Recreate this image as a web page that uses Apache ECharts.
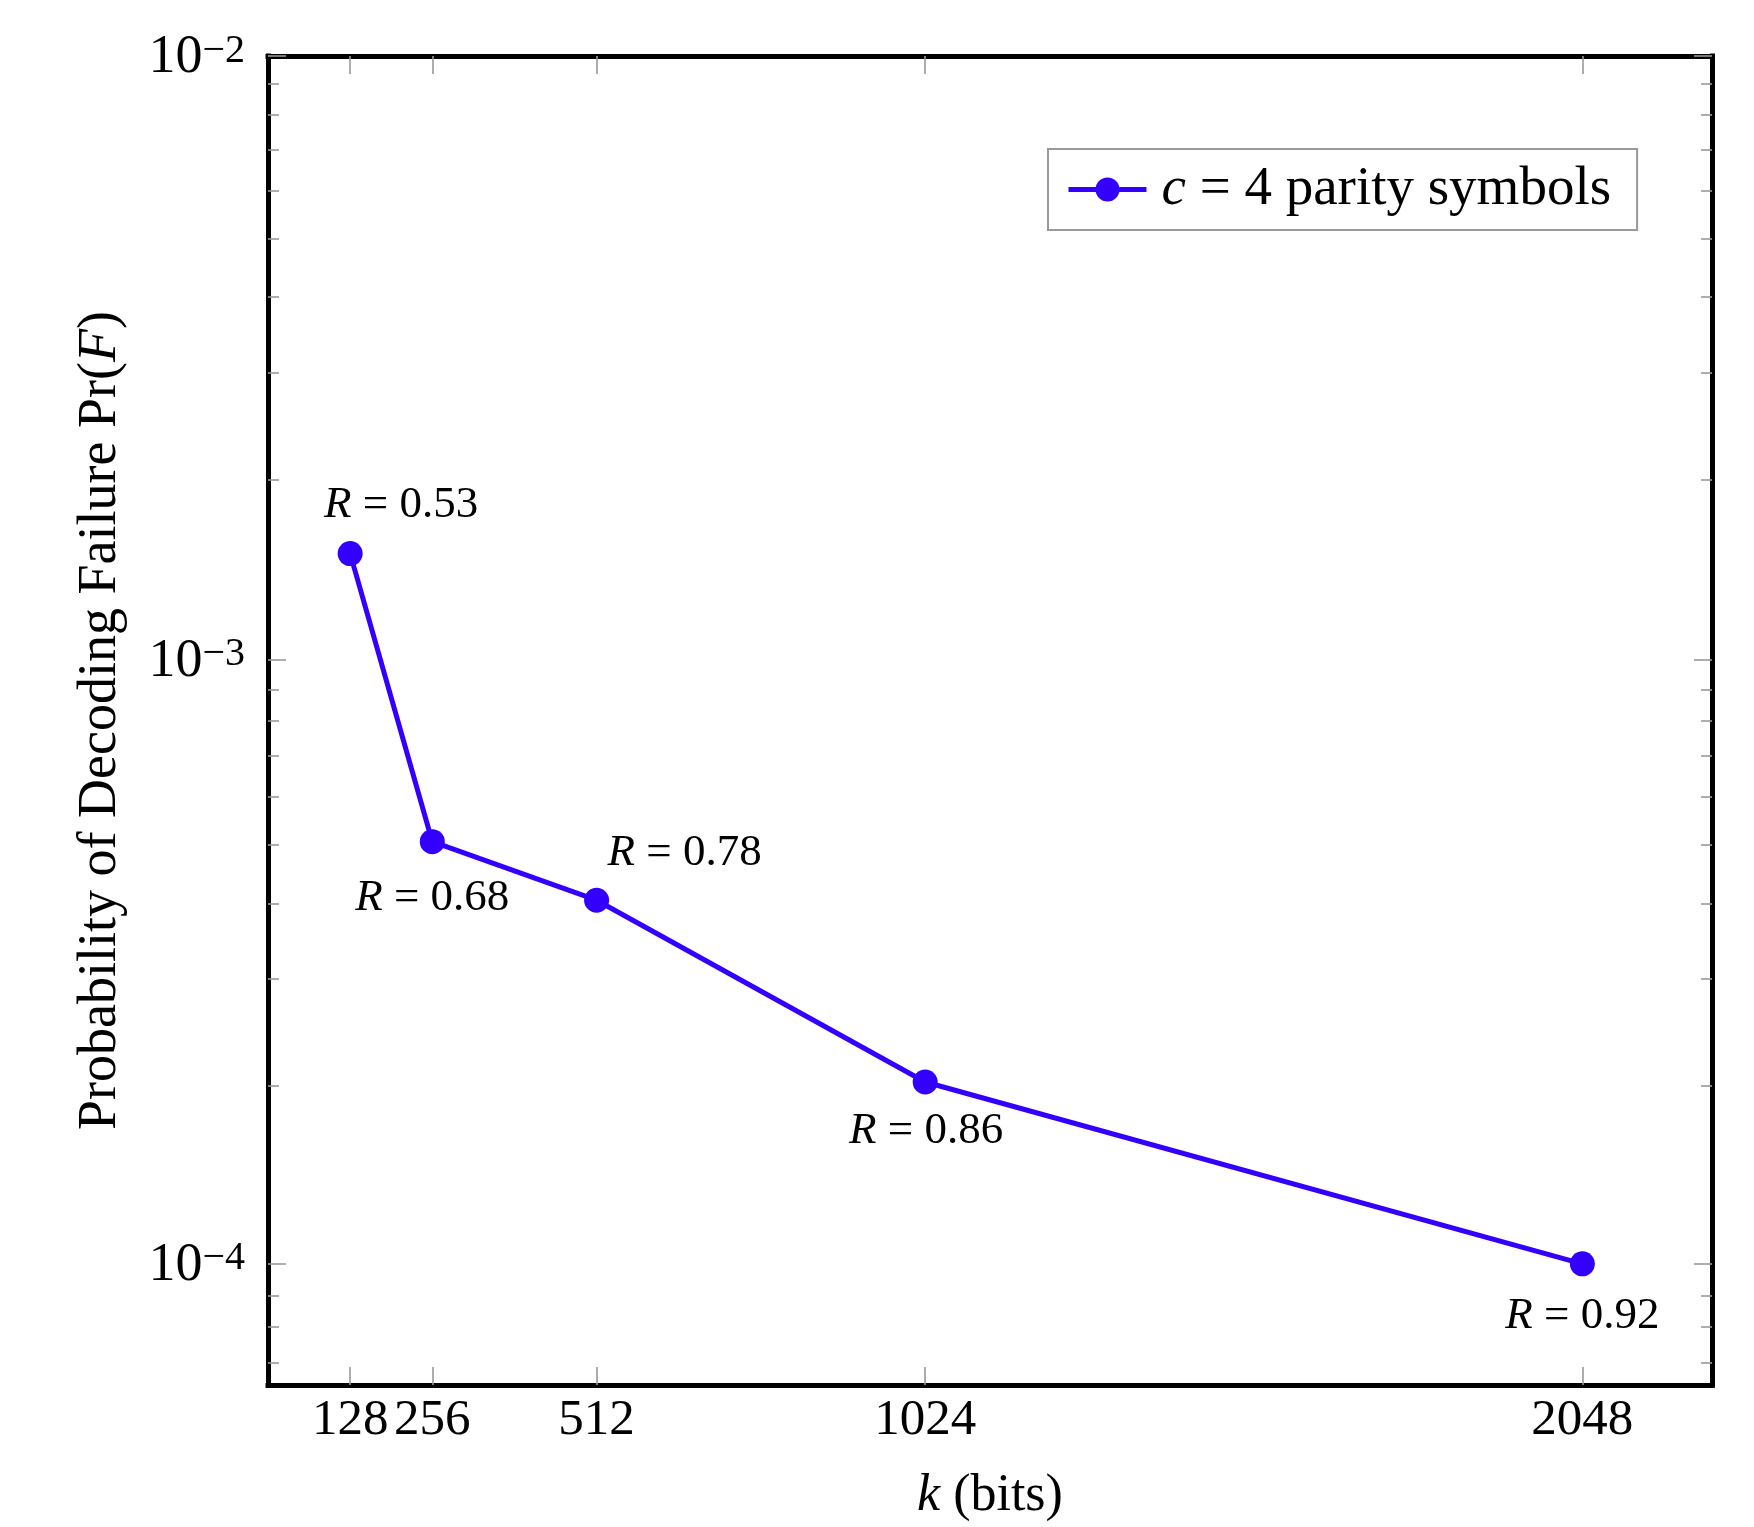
<!DOCTYPE html>
<html><head><meta charset="utf-8">
<script src="https://cdn.jsdelivr.net/npm/echarts@6/dist/echarts.min.js"></script>
<style>html,body{margin:0;padding:0;background:#fff;overflow:hidden}#c{width:1754px;height:1527px}</style>
</head><body><div id="c"></div>
<script>
// ---- data ----
const kBits = [128, 256, 512, 1024, 2048];
const failProb = [1.5e-3, 5e-4, 4e-4, 2e-4, 1e-4];
const rateLabels = ['0.53', '0.68', '0.78', '0.86', '0.92'];
const xTickValues = [128, 256, 512, 1024, 2048];
const yMajorTicks = [1e-4, 1e-3, 1e-2];
const yMinorTicks = [7e-5, 8e-5, 9e-5,
  2e-4, 3e-4, 4e-4, 5e-4, 6e-4, 7e-4, 8e-4, 9e-4,
  2e-3, 3e-3, 4e-3, 5e-3, 6e-3, 7e-3, 8e-3, 9e-3];
const seriesName = 'c = 4 parity symbols';
const xLabel = 'k (bits)';
const yLabel = 'Probability of Decoding Failure Pr(F)';

// ---- styles ----
const FONT = 'Liberation Serif';
const labelOffsets = [[51, -48], [0, 56], [88, -47], [1, 49], [0, 52]];
const X_MIN = 0, X_MAX = 2250, Y_MIN = 6.3e-5, Y_MAX = 1e-2;
const LINE_COLOR = '#3300ff';
const GRID = { left: 268, right: 42, top: 56, bottom: 137, containLabel: false };

const frameLine = { show: true, onZero: false, lineStyle: { color: '#000', width: 5, cap: 'square' } };
const tickStyle = { color: '#999', width: 1.6 };

const seriesData = kBits.map((k, i) => ({
  value: [k, failProb[i]],
  label: { offset: labelOffsets[i] }
}));

function logAxis(extra) {
  return Object.assign({
    type: 'log', logBase: 10, min: Y_MIN, max: Y_MAX,
    splitLine: { show: false }, minorTick: { show: false }, axisLabel: { show: false }
  }, extra);
}

const chart = echarts.init(document.getElementById('c'), null, { renderer: 'canvas' });
chart.setOption({
  animation: false,
  backgroundColor: '#fff',
  grid: [Object.assign({}, GRID), Object.assign({}, GRID)],
  legend: {
    data: [seriesName],
    left: 1048, top: 149,
    itemWidth: 78, itemHeight: 30,
    padding: [13, 26, 13, 18],
    borderColor: '#999', borderWidth: 2, borderRadius: 0,
    backgroundColor: '#fff',
    lineStyle: { width: 5, color: LINE_COLOR },
    formatter: n => '{i|' + n.charAt(0) + '}' + n.slice(1),
    textStyle: {
      fontFamily: FONT, fontSize: 55, color: '#000', padding: [0, 0, 0, 10],
      rich: { i: { fontFamily: FONT, fontSize: 55, fontStyle: 'italic', color: '#000' } }
    }
  },
  xAxis: [
    {
      gridIndex: 0, type: 'value', min: X_MIN, max: X_MAX, position: 'bottom',
      axisLine: frameLine,
      axisTick: { show: true, inside: true, length: 18, customValues: xTickValues, lineStyle: tickStyle },
      axisLabel: { customValues: xTickValues, formatter: v => String(v), fontFamily: FONT, fontSize: 51, color: '#000', margin: 10 },
      splitLine: { show: false },
      name: '{i|' + xLabel.charAt(0) + '}' + xLabel.slice(1),
      nameLocation: 'middle', nameGap: 85,
      nameTextStyle: {
        fontFamily: FONT, fontSize: 52, color: '#000',
        rich: { i: { fontFamily: FONT, fontSize: 52, fontStyle: 'italic', color: '#000' } }
      }
    },
    {
      gridIndex: 0, type: 'value', min: X_MIN, max: X_MAX, position: 'top',
      axisLine: frameLine,
      axisTick: { show: true, inside: true, length: 18, customValues: xTickValues, lineStyle: tickStyle },
      axisLabel: { show: false },
      splitLine: { show: false }
    },
    {
      gridIndex: 1, type: 'value', min: X_MIN, max: X_MAX, show: false
    }
  ],
  yAxis: [
    logAxis({
      gridIndex: 0, position: 'left',
      axisLine: frameLine,
      axisTick: { show: true, inside: true, length: 18, customValues: yMajorTicks, lineStyle: tickStyle },
      axisLabel: {
        show: true, customValues: yMajorTicks, margin: 23, color: '#000', padding: [4, 0, 0, 0],
        formatter: v => '{b|10}{s|\u2212' + (-Math.round(Math.log10(v))) + '}',
        rich: {
          b: { fontFamily: FONT, fontSize: 54, lineHeight: 54, padding: [5, 0, 0, 0], verticalAlign: 'bottom', color: '#000' },
          s: { fontFamily: FONT, fontSize: 40, lineHeight: 40, verticalAlign: 'top', color: '#000' }
        }
      },
      name: yLabel.replace('(F)', '({i|F})'),
      nameLocation: 'middle', nameGap: 140, nameRotate: 90,
      nameTextStyle: {
        fontFamily: FONT, fontSize: 54, color: '#000',
        rich: { i: { fontFamily: FONT, fontSize: 54, fontStyle: 'italic', color: '#000' } }
      }
    }),
    logAxis({
      gridIndex: 0, position: 'right',
      axisLine: frameLine,
      axisTick: { show: true, inside: true, length: 18, customValues: yMajorTicks, lineStyle: tickStyle }
    }),
    logAxis({
      gridIndex: 1, position: 'left',
      axisLine: { show: false },
      axisTick: { show: true, inside: true, length: 11, customValues: yMinorTicks, lineStyle: tickStyle }
    }),
    logAxis({
      gridIndex: 1, position: 'right',
      axisLine: { show: false },
      axisTick: { show: true, inside: true, length: 11, customValues: yMinorTicks, lineStyle: tickStyle }
    })
  ],
  series: [{
    name: seriesName,
    type: 'line',
    xAxisIndex: 0, yAxisIndex: 0,
    data: seriesData,
    symbol: 'circle', symbolSize: 25,
    lineStyle: { color: LINE_COLOR, width: 5 },
    itemStyle: { color: LINE_COLOR },
    label: {
      show: true, position: 'inside',
      formatter: p => '{i|R} = ' + rateLabels[p.dataIndex],
      fontFamily: FONT, fontSize: 45, color: '#000',
      rich: { i: { fontFamily: FONT, fontSize: 45, fontStyle: 'italic', color: '#000' } }
    },
    emphasis: { disabled: true },
    z: 5
  }]
});
</script>
</body></html>
